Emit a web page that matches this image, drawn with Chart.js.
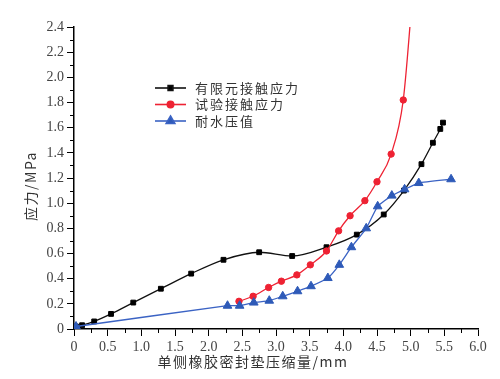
<!DOCTYPE html>
<html>
<head>
<meta charset="utf-8">
<script src="https://cdn.jsdelivr.net/npm/chart.js@4/dist/chart.umd.min.js"></script>
<style>
html,body{margin:0;padding:0;background:#fff;}
#wrap{width:500px;height:379px;position:relative;}
.pre{font-family:'Liberation Serif';position:absolute;left:-999px;top:0;}
</style>
</head>
<body>
<div id="wrap"><canvas id="c" width="500" height="379"></canvas></div>
<span class="pre">0.5 1.0 2.4 MPa</span>
<script>
// ---- data ----
const seriesNames = ['有限元接触应力', '试验接触应力', '耐水压值'];

const xFEM = [0.03, 0.12, 0.30, 0.55, 0.88, 1.29, 1.74, 2.22, 2.75, 3.24, 3.75, 4.20, 4.60, 4.90, 5.16, 5.33, 5.44, 5.48];
const yFEM = [0.02, 0.03, 0.06, 0.12, 0.21, 0.32, 0.44, 0.55, 0.61, 0.58, 0.65, 0.75, 0.91, 1.10, 1.31, 1.48, 1.59, 1.64];

const xTest = [2.45, 2.66, 2.89, 3.08, 3.31, 3.51, 3.75, 3.93, 4.10, 4.32, 4.50, 4.71, 4.89, 5.02];
const yTest = [0.22, 0.26, 0.33, 0.38, 0.43, 0.51, 0.62, 0.78, 0.90, 1.02, 1.17, 1.39, 1.82, 2.60];

const xWater = [0.03, 2.28, 2.46, 2.67, 2.90, 3.10, 3.32, 3.52, 3.77, 3.94, 4.12, 4.34, 4.51, 4.72, 4.91, 5.12, 5.60];
const yWater = [0.02, 0.185, 0.185, 0.21, 0.225, 0.26, 0.30, 0.34, 0.405, 0.51, 0.65, 0.80, 0.975, 1.06, 1.11, 1.16, 1.19];

const xTitle = '单侧橡胶密封垫压缩量/mm';
const yTitle = '应力/MPa';

const toPts = (xs, ys) => xs.map((x, i) => ({x: x, y: ys[i]}));
const serif = "'Liberation Serif'";

const legendPlugin = {
  id: 'customLegend',
  afterDraw(chart) {
    const ctx = chart.ctx;
    const a = chart.chartArea;
    ctx.save();
    chart.data.datasets.forEach((ds, i) => {
      const y = 88 + i * 16.5;
      ctx.strokeStyle = ds.borderColor;
      ctx.fillStyle = ds.pointBackgroundColor;
      ctx.lineWidth = 1.6;
      ctx.beginPath(); ctx.moveTo(155, y); ctx.lineTo(186, y); ctx.stroke();
      Chart.helpers.drawPoint(ctx, {pointStyle: ds.pointStyle, radius: ds.pointRadius, rotation: 0, borderWidth: 1}, 170.5, y);
      ctx.fillStyle = '#333';
      ctx.font = '13px "Noto Sans CJK SC"';
      ctx.letterSpacing = '2px';
      ctx.textBaseline = 'middle';
      ctx.textAlign = 'left';
      ctx.fillText(ds.label, 195, y);
    });
    const ys = chart.scales.y, xs = chart.scales.x;
    ctx.strokeStyle = '#000';
    ctx.lineWidth = 1;
    ctx.letterSpacing = '0px';
    for (let k = 1; k < 24; k += 2) {
      const py = Math.round(ys.getPixelForValue(k / 10)) + 0.5;
      ctx.beginPath(); ctx.moveTo(a.left - 4, py); ctx.lineTo(a.left, py); ctx.stroke();
    }
    for (let k = 1; k < 24; k += 2) {
      const px = Math.round(xs.getPixelForValue(k / 4)) + 0.5;
      ctx.beginPath(); ctx.moveTo(px, a.bottom); ctx.lineTo(px, a.bottom + 4); ctx.stroke();
    }
    ctx.fillStyle = '#333';
    ctx.font = '14px "Noto Sans CJK SC"';
    ctx.letterSpacing = '1.5px';
    ctx.textAlign = 'center';
    ctx.textBaseline = 'middle';
    ctx.fillText(xTitle, 253, 362);
    ctx.translate(31, 186);
    ctx.rotate(-Math.PI / 2);
    ctx.fillText(yTitle, 0, 0);
    ctx.restore();
  }
};

const common = {showLine: true, borderWidth: 1.3, pointBorderWidth: 1};

function draw() {
  new Chart(document.getElementById('c'), {
    type: 'scatter',
    data: {
      datasets: [
        Object.assign({}, common, {
          label: seriesNames[0], data: toPts(xFEM, yFEM), cubicInterpolationMode: 'monotone',
          borderColor: '#111', backgroundColor: '#000', pointBackgroundColor: '#000', pointBorderColor: '#000',
          pointStyle: 'rect', pointRadius: 3.4, order: 2
        }),
        Object.assign({}, common, {
          label: seriesNames[1], data: toPts(xTest, yTest), cubicInterpolationMode: 'monotone',
          borderColor: '#ee2233', backgroundColor: '#ee2233', pointBackgroundColor: '#ee2233', pointBorderColor: '#ee2233',
          pointStyle: 'circle', pointRadius: 3.2, order: 1
        }),
        Object.assign({}, common, {
          label: seriesNames[2], data: toPts(xWater, yWater), tension: 0.15,
          borderColor: '#3b63c4', backgroundColor: '#2e5ab8', pointBackgroundColor: '#2e5ab8', pointBorderColor: '#2e5ab8',
          pointStyle: 'triangle', pointRadius: 5, order: 0
        })
      ]
    },
    options: {
      responsive: false,
      animation: false,
      devicePixelRatio: 1,
      layout: {padding: {left: 0, top: 27, right: 22, bottom: 0}},
      plugins: {legend: {display: false}, tooltip: {enabled: false}},
      scales: {
        x: {
          type: 'linear', min: 0, max: 6,
          afterFit(s) { s.height = 50; },
          ticks: {stepSize: 0.5, padding: 3, color: '#444', font: {family: serif, size: 14},
            callback: v => v === 0 ? '0' : v.toFixed(1), maxRotation: 0, autoSkip: false},
          grid: {drawOnChartArea: false, drawTicks: true, tickLength: 7, color: '#000', tickWidth: 1},
          border: {display: true, color: '#000', width: 1.5}
        },
        y: {
          type: 'linear', min: 0, max: 2.4,
          afterFit(s) { s.width = 74; },
          ticks: {stepSize: 0.2, padding: 3, color: '#444', font: {family: serif, size: 14},
            callback: v => Math.abs(v) < 1e-9 ? '0' : v.toFixed(1), autoSkip: false},
          grid: {drawOnChartArea: false, drawTicks: true, tickLength: 7, color: '#000', tickWidth: 1},
          border: {display: true, color: '#000', width: 1.5}
        }
      }
    },
    plugins: [legendPlugin]
  });
}
if (document.fonts && document.fonts.load) {
  Promise.all([
    document.fonts.load("14px 'Liberation Serif'"),
    document.fonts.load('14px "Noto Sans CJK SC"', '应力')
  ]).then(draw, draw);
} else { draw(); }
</script>
</body>
</html>
